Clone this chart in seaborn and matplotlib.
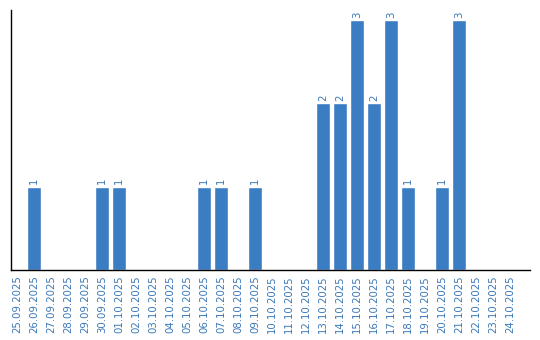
import matplotlib
matplotlib.use("Agg")
import matplotlib.pyplot as plt
import seaborn as sns
import pandas as pd

dates = ["25.09.2025", "26.09.2025", "27.09.2025", "28.09.2025", "29.09.2025",
         "30.09.2025", "01.10.2025", "02.10.2025", "03.10.2025", "04.10.2025",
         "05.10.2025", "06.10.2025", "07.10.2025", "08.10.2025", "09.10.2025",
         "10.10.2025", "11.10.2025", "12.10.2025", "13.10.2025", "14.10.2025",
         "15.10.2025", "16.10.2025", "17.10.2025", "18.10.2025", "19.10.2025",
         "20.10.2025", "21.10.2025", "22.10.2025", "23.10.2025", "24.10.2025"]
counts = [0, 1, 0, 0, 0,
          1, 1, 0, 0, 0,
          0, 1, 1, 0, 1,
          0, 0, 0, 2, 2,
          3, 2, 3, 1, 0,
          1, 3, 0, 0, 0]

df = pd.DataFrame({"date": dates, "count": counts})
bar_color = "#3b7dc3"
text_color = "#3a78b8"

sns.set_style("white")
fig = plt.figure(figsize=(5.4, 3.4), dpi=100)
ax = fig.add_axes([11/540, 70/340, 519/540, 260/340])
sns.barplot(data=df, x="date", y="count", color=bar_color, width=0.82,
            saturation=1, ax=ax)
ax.set_ylim(0, 3.12)
ax.set_xlim(-0.353, len(dates) - 1 + 20/17)
ax.set_xlabel("")
ax.set_ylabel("")
ax.set_yticks([])
ax.tick_params(axis="x", length=0, pad=4, labelsize=7.3, labelcolor=text_color,
               rotation=90)
for s in ["top", "right"]:
    ax.spines[s].set_visible(False)
for s in ["left", "bottom"]:
    ax.spines[s].set_color("black")
    ax.spines[s].set_linewidth(1)

for i, v in enumerate(counts):
    if v > 0:
        ax.text(i, v + 0.03, str(v), rotation=90, ha="center", va="bottom",
                fontsize=7.3, color=text_color)

fig.savefig("out.png", dpi=100)
